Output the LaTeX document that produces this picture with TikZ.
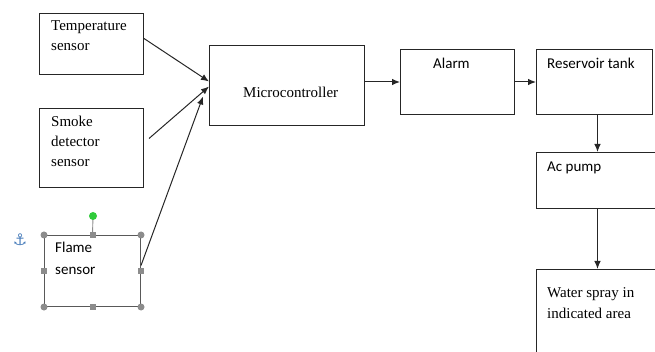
\documentclass[tikz,border=0pt]{standalone}
\usepackage{fontspec}
\setmainfont{Liberation Serif}
\newfontfamily\calibri{Carlito}
\newfontfamily\dejavu{DejaVu Sans}
\usetikzlibrary{arrows.meta}
\definecolor{handlegray}{HTML}{8C8C8C}
\definecolor{rotgreen}{HTML}{2FCB3A}
\definecolor{anchorblue}{HTML}{4A7EBB}
\begin{document}
\begin{tikzpicture}[x=1pt,y=-1pt,
  box/.style={draw=black!85, line width=1pt, inner sep=0pt, anchor=north west, minimum width=#1},
  arr/.style={draw=black!85, line width=1pt, -{Latex[length=8pt,width=6.5pt]}},
  serif/.style={anchor=base west, inner sep=0pt, font=\fontsize{15}{20}\selectfont},
  sans/.style={anchor=base west, inner sep=0pt, font=\calibri\fontsize{15}{20}\selectfont},
  hcirc/.style={circle, fill=handlegray, inner sep=0pt, minimum size=7pt},
  hsq/.style={rectangle, fill=handlegray, inner sep=0pt, minimum size=6pt}
]
\useasboundingbox (0,0) rectangle (655,352);
\clip (0,0) rectangle (655,352);
% boxes
\node[box=104pt, minimum height=61pt] (temp) at (39,13) {};
\node[box=104pt, minimum height=79pt] (smoke) at (39,108) {};
\node[box=96pt, minimum height=71pt, draw=black!65] (flame) at (44,235) {};
\node[box=155pt, minimum height=80pt] (mic) at (209,45) {};
\node[box=114pt, minimum height=65pt] (alarm) at (400,49) {};
\node[box=116pt, minimum height=65pt] (res) at (536,49) {};
\node[box=130pt, minimum height=56pt] (pump) at (536,152) {};
\node[box=130pt, minimum height=100pt] (water) at (536,269) {};
% texts
\node[serif] (t1) at (51,31) {Temperature};
\node[serif] (t2) at (51,51) {sensor};
\node[serif] (s1) at (51,127) {Smoke};
\node[serif] (s2) at (51,147) {detector};
\node[serif] (s3) at (51,167) {sensor};
\node[sans] (f1) at (55,253) {Flame};
\node[sans] (f2) at (55,275) {sensor};
\node[serif] (m1) at (243,98) {Microcontroller};
\node[sans] (a1) at (433,69) {Alarm};
\node[sans] (r1) at (547,69) {Reservoir tank};
\node[sans] (p1) at (547,172) {Ac pump};
\node[serif] (w1) at (547,298) {Water spray in};
\node[serif] (w2) at (547,318) {indicated area};
% selection handles on flame sensor box
\coordinate (rotc) at (93,216);
\node[hsq] (htop) at (flame.north) {};
\draw[handlegray, line width=0.9pt] (rotc) -- (htop);
\node[circle, fill=rotgreen, inner sep=0pt, minimum size=8pt] (rotg) at (rotc) {};
\node[hsq] (hbot) at (flame.south) {};
\node[hsq] (hleft) at (flame.west) {};
\node[hsq] (hright) at (flame.east) {};
\node[hcirc] (hnw) at (flame.north west) {};
\node[hcirc] (hne) at (flame.north east) {};
\node[hcirc] (hsw) at (flame.south west) {};
\node[hcirc] (hse) at (flame.south east) {};
\node[inner sep=0pt, text=anchorblue, font=\dejavu\bfseries\fontsize{16}{16}\selectfont] (anc) at (20,240) {⚓};
% connectors
\draw[arr] ([yshift=5.5pt]temp.east) -- ([yshift=4pt]mic.west);
\draw[arr] ([xshift=5pt,yshift=9.5pt]smoke.east) -- ([yshift=-1pt]mic.west);
\draw[arr] ([yshift=5.5pt]flame.east) -- ([xshift=-6pt,yshift=-11pt]mic.west);
\draw[arr] (mic.east |- alarm.west) -- (alarm.west);
\draw[arr] (alarm.east) -- (res.west);
\draw[arr] ([xshift=3pt]res.south) -- ([xshift=3pt]res.south |- pump.north);
\draw[arr] ([xshift=3pt]res.south |- pump.south) -- ([xshift=3pt]res.south |- water.north);
\end{tikzpicture}
\end{document}
